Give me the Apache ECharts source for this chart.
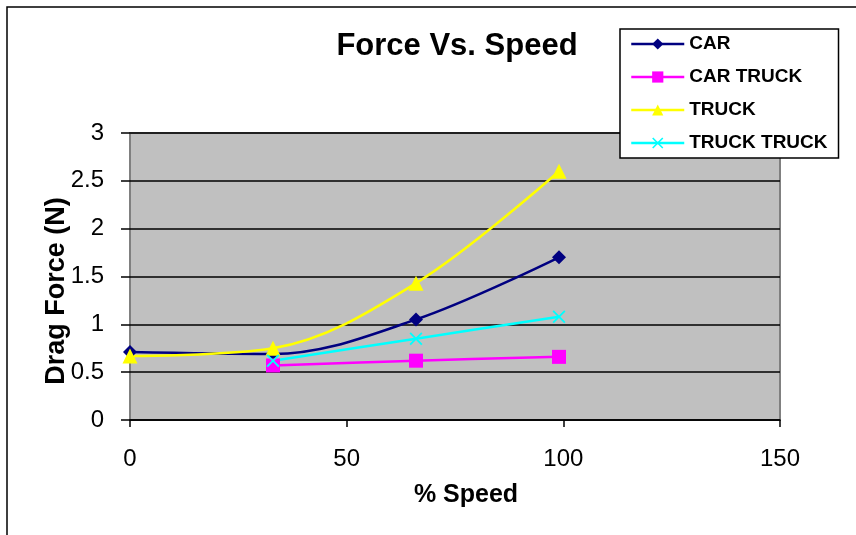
<!DOCTYPE html>
<html>
<head>
<meta charset="utf-8">
<script src="https://cdn.jsdelivr.net/npm/echarts@6/dist/echarts.min.js"></script>
<style>
  html, body { margin: 0; padding: 0; background: #fff; }
  #chart { width: 856px; height: 535px; }
</style>
</head>
<body>
<div id="chart"></div>
<script>
// % speed settings at which drag was measured
const speeds = [0, 33, 66, 99];

// Drag force (N) per configuration
const car        = [0.71, 0.69, 1.05, 1.70];
const carTruck   = [null, 0.57, 0.62, 0.66];
const truck      = [0.67, 0.75, 1.43, 2.60];
const truckTruck = [null, 0.62, 0.85, 1.08];

const seriesNames = ['CAR', 'CAR TRUCK', 'TRUCK', 'TRUCK TRUCK'];

const xTicks = { min: 0, max: 150, interval: 50 };
const yTicks = { min: 0, max: 3, interval: 0.5 };

const FONT = 'Liberation Sans, Arial, sans-serif';
const crossSymbol = 'path://M0,1L1,0L5,4L9,0L10,1L6,5L10,9L9,10L5,6L1,10L0,9L4,5Z';

function pairs(values) {
  return speeds.map((s, i) => values[i] == null ? null : [s, values[i]]).filter(p => p);
}

function lineSeries(name, values, color, symbol, size) {
  return {
    name: name,
    type: 'line',
    data: pairs(values),
    smooth: 0.35,
    symbol: symbol,
    symbolSize: size,
    showSymbol: true,
    lineStyle: { color: color, width: 2.5 },
    itemStyle: { color: color },
    emphasis: { disabled: true },
    z: 3
  };
}

const chart = echarts.init(document.getElementById('chart'), null, { renderer: 'canvas' });

chart.setOption({
  animation: false,
  backgroundColor: '#ffffff',
  grid: {
    left: 130, right: 76, top: 133, bottom: 115,
    show: true,
    backgroundColor: '#c0c0c0',
    borderColor: '#808080',
    borderWidth: 2
  },
  xAxis: {
    type: 'value',
    min: xTicks.min, max: xTicks.max, interval: xTicks.interval,
    axisLine: { show: true, onZero: false, lineStyle: { color: '#000', width: 1.5 } },
    axisTick: { show: true, inside: false, length: 7, lineStyle: { color: '#000', width: 1.5 } },
    splitLine: { show: false },
    axisLabel: { color: '#000', fontFamily: FONT, fontSize: 24, margin: 27 }
  },
  yAxis: {
    type: 'value',
    min: yTicks.min, max: yTicks.max, interval: yTicks.interval,
    axisLine: { show: false },
    axisTick: { show: true, inside: false, length: 9, lineStyle: { color: '#000', width: 1.5 } },
    splitLine: { show: true, lineStyle: { color: '#000', width: 1.5 } },
    axisLabel: { color: '#000', fontFamily: FONT, fontSize: 24, margin: 26 }
  },
  legend: {
    orient: 'vertical',
    left: 620, top: 29,
    padding: [5, 11, 5, 10],
    itemGap: 13,
    itemWidth: 53,
    itemHeight: 14,
    backgroundColor: '#ffffff',
    borderColor: '#000',
    borderWidth: 1.5,
    lineStyle: { width: 2.5 },
    textStyle: { color: '#000', fontFamily: FONT, fontSize: 19, fontWeight: 'bold', lineHeight: 20 },
    data: seriesNames
  },
  graphic: [
    {
      type: 'rect', silent: true, z: -1,
      shape: { x: 7, y: 7, width: 1000, height: 700 },
      style: { fill: null, stroke: '#000', lineWidth: 1.5 }
    },
    {
      type: 'text', x: 457, y: 46,
      style: { text: 'Force Vs. Speed', fill: '#000', font: 'bold 31px ' + FONT, textAlign: 'center', textVerticalAlign: 'middle' }
    },
    {
      type: 'text', x: 466, y: 495,
      style: { text: '% Speed', fill: '#000', font: 'bold 25px ' + FONT, textAlign: 'center', textVerticalAlign: 'middle' }
    },
    {
      type: 'text', x: 57, y: 291, rotation: Math.PI / 2,
      style: { text: 'Drag Force (N)', fill: '#000', font: 'bold 27px ' + FONT, textAlign: 'center', textVerticalAlign: 'middle' }
    }
  ],
  series: [
    lineSeries('CAR', car, '#000080', 'diamond', 14),
    lineSeries('CAR TRUCK', carTruck, '#ff00ff', 'rect', 14),
    lineSeries('TRUCK', truck, '#ffff00', 'triangle', 15),
    lineSeries('TRUCK TRUCK', truckTruck, '#00ffff', crossSymbol, 13)
  ]
});
</script>
</body>
</html>
